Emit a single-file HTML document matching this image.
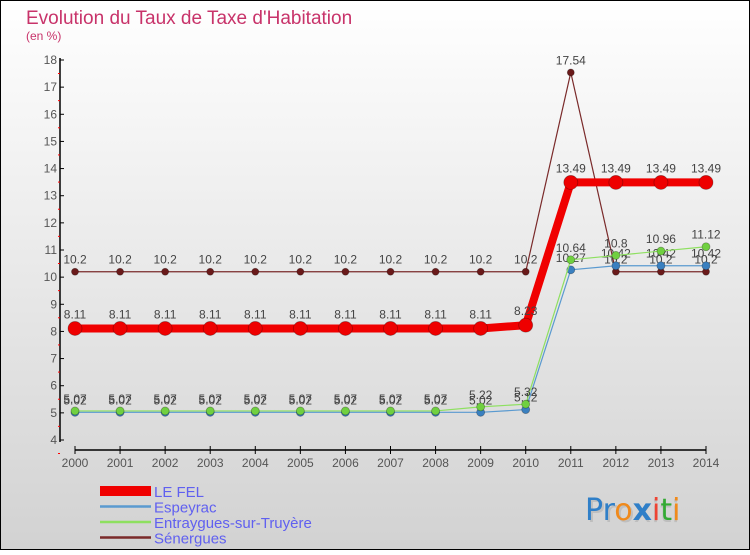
<!DOCTYPE html>
<html><head><meta charset="utf-8"><style>
html,body{margin:0;padding:0}
body{width:750px;height:550px;overflow:hidden;font-family:"Liberation Sans",sans-serif}
</style></head><body>
<svg id="chart" width="750" height="550" xmlns="http://www.w3.org/2000/svg">
<defs><linearGradient id="bg" x1="0" y1="0" x2="0" y2="1"><stop offset="0" stop-color="#ffffff"/><stop offset="1" stop-color="#d2d2d2"/></linearGradient></defs>
<rect x="0.5" y="0.5" width="749" height="549" fill="url(#bg)" stroke="#000"/>
<text x="26" y="24" font-size="19" fill="#c8336a">Evolution du Taux de Taxe d'Habitation</text>
<text x="26" y="40" font-size="12" fill="#c8336a">(en %)</text>
<g id="axes"></g><g id="series"></g><g id="legend"></g>
<g font-size="30" font-family="'DejaVu Sans',sans-serif">
<text x="585" y="520" fill="#aaa" opacity="0.5" transform="translate(2,2)">Proxiti</text>
<text x="585" y="520"><tspan fill="#2f7fc8">Pr</tspan><tspan fill="#f08a1c">o</tspan><tspan fill="#2f7fc8" font-weight="bold">x</tspan><tspan fill="#e43">i</tspan><tspan fill="#3a3">t</tspan><tspan fill="#f08a1c">i</tspan></text>
</g>
</svg>
<script>
const years=[2000,2001,2002,2003,2004,2005,2006,2007,2008,2009,2010,2011,2012,2013,2014];
const leFel=[8.11,8.11,8.11,8.11,8.11,8.11,8.11,8.11,8.11,8.11,8.23,13.49,13.49,13.49,13.49];
const espeyrac=[5.02,5.02,5.02,5.02,5.02,5.02,5.02,5.02,5.02,5.02,5.12,10.27,10.42,10.42,10.42];
const entraygues=[5.07,5.07,5.07,5.07,5.07,5.07,5.07,5.07,5.07,5.22,5.32,10.64,10.8,10.96,11.12];
const senergues=[10.2,10.2,10.2,10.2,10.2,10.2,10.2,10.2,10.2,10.2,10.2,17.54,10.2,10.2,10.2];
const yTicks=[4,5,6,7,8,9,10,11,12,13,14,15,16,17,18];
const NS="http://www.w3.org/2000/svg";
const X=i=>75+i*(706-75)/14, Y=v=>440-(v-4)*(380/14);
function mk(t,a,p){const e=document.createElementNS(NS,t);for(const k in a)e.setAttribute(k,a[k]);p.appendChild(e);return e;}
const ax=document.getElementById('axes');
let l=mk('line',{x1:60,y1:58,x2:60,y2:442,stroke:'#000','stroke-width':1.5},ax);


yTicks.forEach(v=>{
 mk('line',{x1:60,y1:Y(v),x2:64,y2:Y(v),stroke:'#000'},ax);
 mk('line',{x1:58,y1:Y(v)+13.5,x2:60,y2:Y(v)+13.5,stroke:'#f00'},ax);
 const t=mk('text',{x:57,y:Y(v)+4,'font-size':12,fill:'#555','text-anchor':'end'},ax);
 
 
 t.textContent=v;
});
l=mk('line',{x1:75,y1:450,x2:706,y2:450,stroke:'#000','stroke-width':1.5},ax);


years.forEach((y,i)=>{
 mk('line',{x1:X(i),y1:446,x2:X(i),y2:454,stroke:'#000'},ax);
 const t=mk('text',{x:X(i),y:467,'font-size':12,fill:'#555','text-anchor':'middle'},ax);
 
 
 t.textContent=y;
});
const ser=[
 {n:'senergues',d:senergues,c:'#7a2a2a',f:'#6a1a1a',w:1.2,r:3.5,lab:'Sénergues'},
 {n:'espeyrac',d:espeyrac,c:'#5a9ad0',f:'#3a80c0',w:1.2,r:4,lab:'Espeyrac'},
 {n:'entraygues',d:entraygues,c:'#8ee060',f:'#70d040',w:1.2,r:4,lab:'Entraygues-sur-Truyère'},
 {n:'le-fel',d:leFel,c:'#f00000',f:'#ee0000',w:8,r:7,lab:'LE FEL'}];
const sg=document.getElementById('series');
ser.forEach(s=>{
 const g=mk('g',{},sg);
 
 
 const p=mk('polyline',{points:s.d.map((v,i)=>X(i)+','+Y(v)).join(' '),fill:'none',stroke:s.c,'stroke-width':s.w},g);
 
 
 s.d.forEach((v,i)=>{
  const c=mk('circle',{cx:X(i),cy:Y(v),r:s.r,fill:s.f,stroke:'rgba(0,0,0,0.3)','stroke-width':0.8},g);
  
  
  const t=mk('text',{x:X(i),y:Y(v)-(s.w>2?10:8),'font-size':12,fill:'#444','text-anchor':'middle'},g);
  
  
  t.textContent=v;
 });
});
const lg=document.getElementById('legend');
[ser[3],ser[1],ser[2],ser[0]].forEach((s,k)=>{
 const y=491+k*15.5;
 const g=mk('g',{},lg);
 
 
 mk('line',{x1:100,y1:y,x2:151,y2:y,stroke:s.c,'stroke-width':s.w>2?10:2.5},g);
 const t=mk('text',{x:154,y:y+6,'font-size':15,fill:'#6060f0'},g);
 t.textContent=s.lab;
});
</script>
</body></html>
